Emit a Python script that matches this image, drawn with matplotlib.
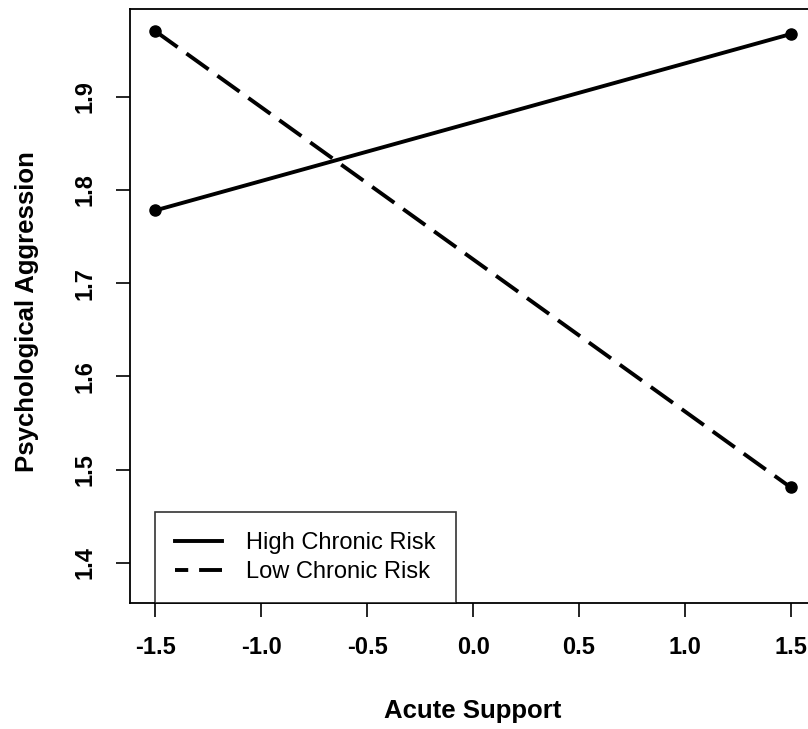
import matplotlib.pyplot as plt

# values
x_vals = [-1.5, 1.5]
high_risk = [1.778, 1.967]
low_risk = [1.970, 1.481]
x_ticks = [-1.5, -1.0, -0.5, 0.0, 0.5, 1.0, 1.5]
y_ticks = [1.4, 1.5, 1.6, 1.7, 1.8, 1.9]

plt.rcParams['font.family'] = ['Liberation Sans', 'DejaVu Sans']

fig = plt.figure(figsize=(8.08, 7.29), dpi=100)
ax = fig.add_axes([0.161, 0.1728, 0.849, 0.815])

ax.plot(x_vals, high_risk, color='black', lw=2.8, marker='o', ms=8, label='High Chronic Risk')
ax.plot(x_vals, low_risk, color='black', lw=2.8, ls=(0, (7, 2.8)), marker='o', ms=8,
        label='Low Chronic Risk')

ax.set_xlim(-1.62, 1.62)
ax.set_ylim(1.357, 1.994)
ax.set_xticks(x_ticks)
ax.set_xticklabels(['%.1f' % v for v in x_ticks], fontsize=17, fontweight='bold')
ax.set_yticks(y_ticks)
ax.set_yticklabels(['%.1f' % v for v in y_ticks], fontsize=17, fontweight='bold',
                   rotation=90, va='center')
ax.tick_params(length=10, width=1.2)
ax.tick_params(axis='x', pad=14)
ax.tick_params(axis='y', pad=14)
for s in ax.spines.values():
    s.set_linewidth(1.3)

ax.set_xlabel('Acute Support', fontsize=18.5, fontweight='bold', va='center')
ax.xaxis.set_label_coords(0.5, -0.182)
ax.set_ylabel('Psychological Aggression', fontsize=18.5, fontweight='bold', va='center')
ax.yaxis.set_label_coords(-0.150, 0.49)

leg = ax.legend(loc='lower left', bbox_to_anchor=(0.0364, 0.0), fontsize=17,
                frameon=True, fancybox=False, edgecolor='black', handlelength=2.0,
                borderpad=0.85, labelspacing=0.3, handletextpad=1.0, borderaxespad=0)
leg.get_frame().set_linewidth(1.2)
for h in leg.legend_handles:
    h.set_marker('')
leg.legend_handles[1].set_linestyle((3.6, (7, 2.8)))

fig.savefig('out.png', dpi=100)
